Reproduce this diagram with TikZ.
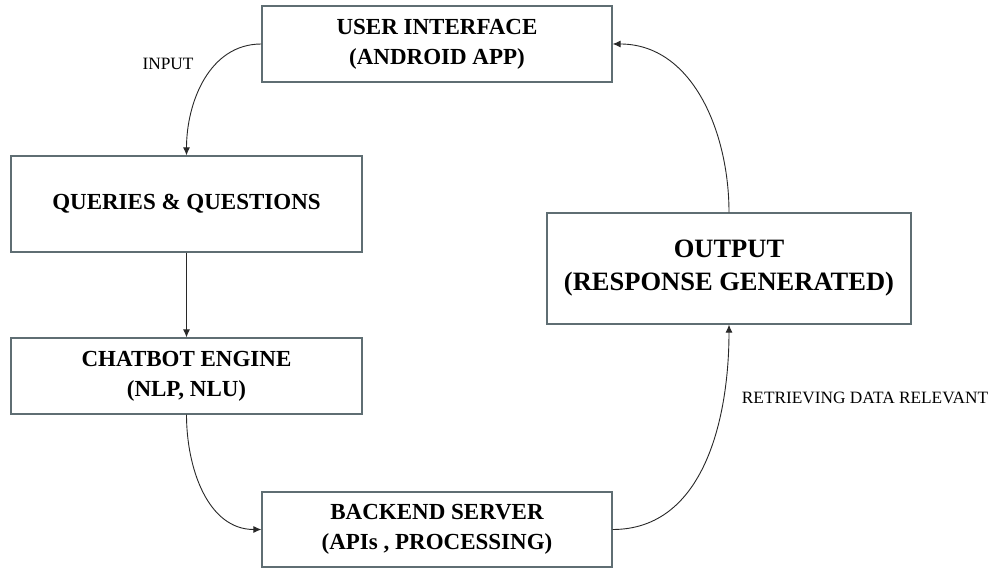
\documentclass[tikz,border=0pt]{standalone}
\usepackage{fontspec}
\setmainfont{Liberation Serif}
\usetikzlibrary{arrows.meta}
\definecolor{boxline}{RGB}{95,110,115}
\definecolor{connc}{RGB}{40,40,40}
\begin{document}
\begin{tikzpicture}[x=1pt,y=-1pt,
  blk/.style={draw=boxline, line width=1.3pt, fill=white, inner sep=0pt, align=center,
    font=\fontsize{23}{30}\selectfont\bfseries},
  bigblk/.style={blk, font=\fontsize{26.5}{33}\selectfont\bfseries},
  link/.style={draw=connc, line width=0.9pt, -{Latex[length=8pt,width=7pt]}},
  lbl/.style={font=\fontsize{17.3}{20}\selectfont, inner sep=0pt}]
\useasboundingbox[fill=white] (0,0) rectangle (993,569);
\node[blk, minimum width=350pt, minimum height=76pt] (ui) at (437,44) {USER INTERFACE\\(ANDROID APP)};
\node[blk, minimum width=351pt, minimum height=96pt] (qq) at (186.5,204) {QUERIES \& QUESTIONS};
\node[blk, minimum width=351pt, minimum height=76pt] (ce) at (186.5,376) {CHATBOT ENGINE\\(NLP, NLU)};
\node[blk, minimum width=350pt, minimum height=75pt] (bs) at (437,529.5) {BACKEND SERVER\\(APIs , PROCESSING)};
\node[bigblk, minimum width=364pt, minimum height=111pt] (out) at (729,268.5) {OUTPUT\\(RESPONSE GENERATED)};
\node[lbl] (lin) at (168,64) {INPUT};
\node[lbl] (lret) at (865,398) {RETRIEVING DATA RELEVANT};
\draw[link] (ui.west) to[out=180,in=90] (qq.north);
\draw[link] (qq.south) -- (ce.north);
\draw[link] (ce.south) to[out=-90,in=180] (bs.west);
\draw[link] (bs.east) to[out=0,in=-90] (out.south);
\draw[link] (out.north) to[out=90,in=0] (ui.east);
\end{tikzpicture}
\end{document}
